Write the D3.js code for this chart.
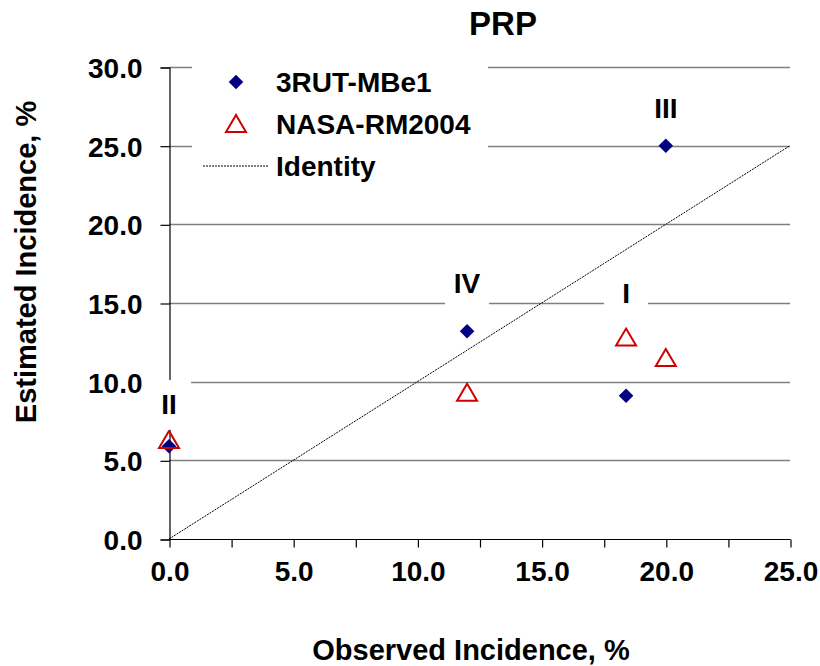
<!DOCTYPE html>
<html>
<head>
<meta charset="utf-8">
<script src="https://cdn.jsdelivr.net/npm/d3@7"></script>
<style>
  html, body { margin: 0; padding: 0; background: #fff; }
  svg { display: block; }
  text { font-family: "Liberation Sans", Arial, sans-serif; font-weight: bold; fill: #000; }
</style>
</head>
<body>
<svg id="chart" width="820" height="666"></svg>
<script>
// Groups and observed incidence (%)
const groups = ["I", "II", "III", "IV"];
const observed = [18.4, 0.0, 20.0, 12.0];
// Estimated incidence (%) per model
const est3RUT = [9.1, 5.9, 25.0, 13.2];
const estNASA = [12.8, 6.3, 11.5, 9.3];
const seriesNames = ["3RUT-MBe1", "NASA-RM2004", "Identity"];
// Axis ticks
const xTickLabels = [0, 5, 10, 15, 20, 25];
const xMinorTicks = [0, 2.5, 5, 7.5, 10, 12.5, 15, 17.5, 20, 22.5, 25];
const yTickLabels = [0, 5, 10, 15, 20, 25, 30];

const svg = d3.select("#chart");
const x = d3.scaleLinear().domain([0, 25]).range([169, 790]);
const y = d3.scaleLinear().domain([0, 30]).range([539, 67]);
const fmt = d3.format(".1f");

// Horizontal gridlines
svg.append("g").selectAll("line").data(yTickLabels.filter(d => d > 0)).join("line")
  .attr("x1", x(0)).attr("x2", x(25))
  .attr("y1", d => Math.round(y(d)) + 0.5).attr("y2", d => Math.round(y(d)) + 0.5)
  .attr("stroke", "#7f7f7f").attr("stroke-width", 1.5);

// Y axis (ticks outside, labels on the left)
const yAxis = d3.axisLeft(y).tickValues(yTickLabels).tickSize(9).tickPadding(18).tickFormat(fmt);
const gy = svg.append("g").attr("transform", `translate(${x(0) + 0.5},0.5)`).call(yAxis);
gy.select(".domain").attr("stroke", "#000").attr("stroke-width", 1.2);
gy.selectAll(".tick line").attr("stroke", "#000").attr("stroke-width", 1.2);
gy.selectAll(".tick text").style("font-size", "28px").attr("dy", "0.36em");

// X axis (ticks every 2.5, labels every 5)
const xAxis = d3.axisBottom(x).tickValues(xMinorTicks).tickSize(8).tickPadding(14)
  .tickFormat(d => xTickLabels.includes(d) ? fmt(d) : "");
const gx = svg.append("g").attr("transform", `translate(0.5,${Math.round(y(0)) + 0.5})`).call(xAxis);
gx.select(".domain").attr("stroke", "#000").attr("stroke-width", 1.2).attr("d", `M${x(0)},0H${x(25)}`);
gx.selectAll(".tick line").attr("stroke", "#000").attr("stroke-width", 1.2);
gx.selectAll(".tick text").style("font-size", "28px").attr("dy", "0.71em");

// Identity line
svg.append("line")
  .attr("x1", x(0)).attr("y1", y(0)).attr("x2", x(25)).attr("y2", y(25))
  .attr("stroke", "#000").attr("stroke-width", 1).attr("stroke-dasharray", "2,1");

// Markers
const diamond = d3.symbol().type(d3.symbolDiamond2).size(135);
const triangle = "M0,-9L10,8L-10,8Z";

svg.append("g").selectAll("path").data(groups).join("path")
  .attr("d", diamond)
  .attr("transform", (g, i) => `translate(${x(observed[i])},${y(est3RUT[i])})`)
  .attr("fill", "#000080");

svg.append("g").selectAll("path").data(groups).join("path")
  .attr("d", triangle)
  .attr("transform", (g, i) => `translate(${x(observed[i])},${y(estNASA[i])})`)
  .attr("fill", "none").attr("stroke", "#d00000").attr("stroke-width", 2);

// Group labels with white backgrounds, placed above each group's points
const groupLabelAt = { "I": 15.0, "II": 7.95, "III": 26.75, "IV": 15.66 };
const gl = svg.append("g").selectAll("g").data(groups).join("g")
  .attr("transform", (g, i) => `translate(${x(observed[i])},${y(groupLabelAt[g])})`);
gl.append("rect")
  .attr("x", -22).attr("y", -34).attr("width", 44).attr("height", 50).attr("fill", "#fff");
gl.append("text").attr("text-anchor", "middle").style("font-size", "28px").text(g => g);

// Legend
const lg = svg.append("g");
lg.append("rect").attr("x", 192).attr("y", 58).attr("width", 296).attr("height", 132).attr("fill", "#fff");
const rows = [82, 124, 166];
lg.append("path").attr("d", diamond).attr("transform", `translate(236,${rows[0]})`).attr("fill", "#000080");
lg.append("path").attr("d", triangle).attr("transform", `translate(236,${rows[1]})`)
  .attr("fill", "none").attr("stroke", "#d00000").attr("stroke-width", 2);
lg.append("line").attr("x1", 203).attr("x2", 268).attr("y1", rows[2]).attr("y2", rows[2])
  .attr("stroke", "#000").attr("stroke-width", 1).attr("stroke-dasharray", "2,1");
lg.selectAll("text").data(seriesNames).join("text")
  .attr("x", 276).attr("y", (d, i) => rows[i] + 10)
  .style("font-size", "28px").text(d => d);

// Titles
svg.append("text").attr("x", 503).attr("y", 35).attr("text-anchor", "middle")
  .style("font-size", "33px").text("PRP");
svg.append("text").attr("x", 471).attr("y", 660).attr("text-anchor", "middle")
  .style("font-size", "29px").text("Observed Incidence, %");
svg.append("text").attr("transform", "translate(36,262) rotate(-90)").attr("text-anchor", "middle")
  .style("font-size", "29px").text("Estimated Incidence, %");
</script>
</body>
</html>
